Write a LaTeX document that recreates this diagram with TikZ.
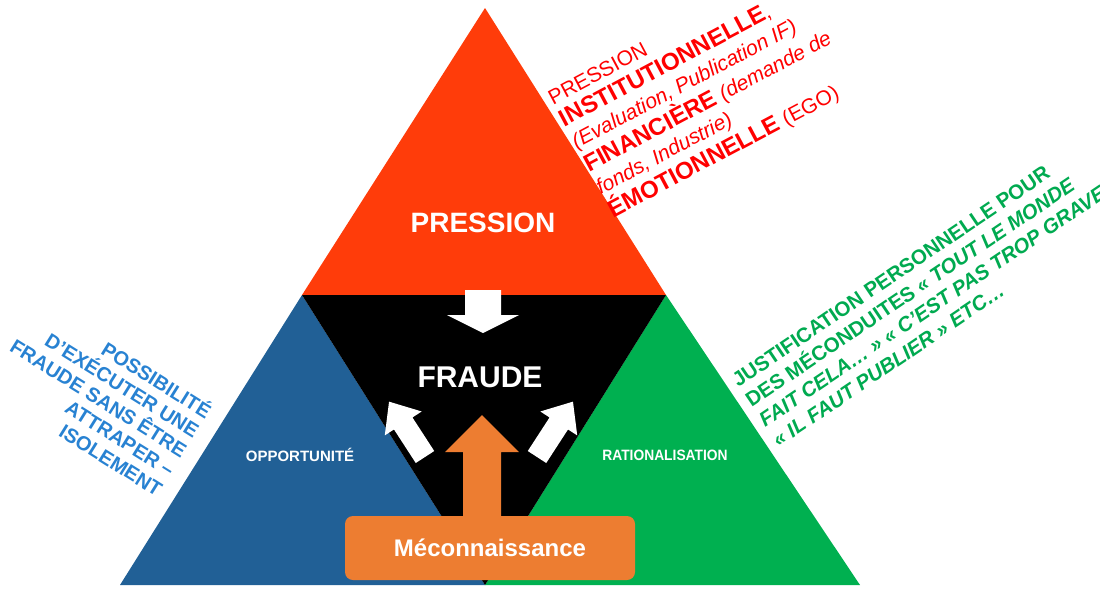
\documentclass[tikz,border=0pt]{standalone}
\usepackage{fontspec}
\setmainfont{Liberation Sans}
\usetikzlibrary{positioning}
\definecolor{presred}{RGB}{255,60,10}
\definecolor{oppblue}{RGB}{33,96,150}
\definecolor{ratgreen}{RGB}{0,176,80}
\definecolor{mecorange}{RGB}{237,125,49}
\definecolor{txtred}{RGB}{255,0,0}
\definecolor{txtblue}{RGB}{40,130,210}
\definecolor{txtgreen}{RGB}{0,170,80}
% block arrow: tail at (0,0), pointing along +x; #1 length, #2 shaft width, #3 head width, #4 head length
\newcommand{\blockarr}[4]{(0,-#2/2) -- (#1-#4,-#2/2) -- (#1-#4,-#3/2) -- (#1,0) -- (#1-#4,#3/2) -- (#1-#4,#2/2) -- (0,#2/2) -- cycle}
\begin{document}
\begin{tikzpicture}[x=1pt,y=-1pt]
\tikzstyle{side}=[font=\fontsize{21}{25}\selectfont, inner sep=0pt]
\useasboundingbox (0,0) rectangle (1100,595);
  \coordinate (apex) at (485,8);
  \coordinate (ml) at (302,295);
  \coordinate (mr) at (666,295);
  \coordinate (bl) at (120,585);
  \coordinate (bm) at (485,585);
  \coordinate (br) at (860,585);
  \fill[presred] (apex) -- (mr) -- (ml) -- cycle;
  \fill[oppblue] (ml) -- (bm) -- (bl) -- cycle;
  \fill[ratgreen] (mr) -- (br) -- (bm) -- cycle;
  \fill[black] (ml) -- (mr) -- (bm) -- cycle;
  \node[text=white, font=\bfseries\fontsize{28}{30}\selectfont] (pres) at (483,223) {PRESSION};
  \node[text=white, font=\bfseries\fontsize{30}{32}\selectfont] (fraude) at (480,377) {FRAUDE};
  \node[text=white, font=\bfseries\fontsize{15}{17}\selectfont] (opp) at (300,455) {OPPORTUNITÉ};
  \node[text=white, font=\bfseries\fontsize{15}{17}\selectfont, xscale=0.92] (rat) at (665,455) {RATIONALISATION};
  % arrows into the centre
  \fill[white, shift={(483,290)}, rotate=-90] \blockarr{43}{36}{72}{18};
  \fill[white, shift={(425,457)}, rotate=123] \blockarr{66}{22}{44}{26};
  \fill[white, shift={(537,457)}, rotate=57] \blockarr{66}{22}{44}{26};
  \fill[mecorange, shift={(482,520)}, rotate=90] \blockarr{105}{38}{74}{37};
  \node[fill=mecorange, rounded corners=8pt, minimum width=290pt, minimum height=64pt, text=white, font=\bfseries\fontsize{24}{26}\selectfont] (mec) at (490,548) {Méconnaissance};
  \node[side, text=txtred, rotate=28, align=left, anchor=north west] (presTxt) at (546,92)
    {PRESSION\\
     {\bfseries\fontsize{24}{25}\selectfont INSTITUTIONNELLE},\\
     {\itshape (Evaluation, Publication IF)}\\
     {\bfseries\fontsize{24}{25}\selectfont FINANCIÈRE} {\itshape (demande de}\\
     {\itshape fonds, Industrie)}\\
     {\bfseries\fontsize{24}{25}\selectfont ÉMOTIONNELLE} (EGO)};
  \node[side, text=txtgreen, rotate=34, align=left, anchor=north west, font=\bfseries\fontsize{20.5}{24}\selectfont] (ratTxt) at (730,376)
    {JUSTIFICATION PERSONNELLE POUR\\
     DES MÉCONDUITES {\itshape « TOUT LE MONDE}\\
     {\itshape FAIT CELA… » « C’EST PAS TROP GRAVE »}\\
     {\itshape « IL FAUT PUBLIER » ETC…}};
  \node[side, text=txtblue, rotate=-32, align=right, anchor=north east, font=\bfseries\fontsize{20}{23}\selectfont] (oppTxt) at (215,404)
    {POSSIBILITÉ\\
     D’EXÉCUTER UNE\\
     FRAUDE SANS ÊTRE\\
     ATTRAPER –\\
     ISOLEMENT};
\end{tikzpicture}
\end{document}
